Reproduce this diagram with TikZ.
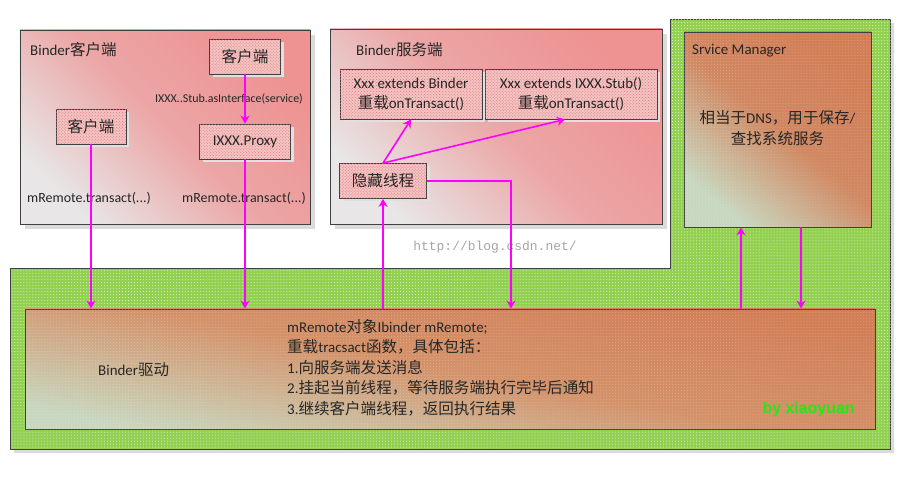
\documentclass[tikz,border=0pt]{standalone}
\usepackage{fontspec}
\setmainfont{Carlito}
\newfontfamily\cjk[Scale=1.04]{Noto Sans CJK SC}
\newfontfamily\urlfont{Liberation Mono}
\newfontfamily\signfont{Liberation Sans}
\usetikzlibrary{arrows.meta,patterns,shadows}

\definecolor{panelpink}{RGB}{238,146,146}
\definecolor{panelmid}{RGB}{236,166,166}
\definecolor{panelgrey}{RGB}{232,230,230}
\definecolor{boxpink}{RGB}{244,196,196}
\definecolor{boxdot}{RGB}{222,120,120}
\definecolor{zonegreen}{RGB}{146,208,80}
\definecolor{coretop}{RGB}{210,126,86}
\definecolor{coremid}{RGB}{212,146,106}
\definecolor{corelow}{RGB}{200,216,192}
\definecolor{edgegrey}{RGB}{64,64,64}
\definecolor{callpink}{RGB}{255,0,255}
\definecolor{signgreen}{RGB}{30,235,20}
\definecolor{inkgrey}{RGB}{38,38,38}

\begin{document}
\begin{tikzpicture}[x=1bp,y=-1bp]

    \tikzset{
      panel/.style={
        draw=edgegrey,
        line width=0.8bp,
        top color=panelpink,
        bottom color=panelgrey,
        middle color=panelmid,
        shading angle=-45,
        drop shadow={shadow xshift=5bp,shadow yshift=-5bp,fill=black!14,opacity=1},
        inner sep=0pt,
      },
      corebox/.style={
        draw=edgegrey,
        line width=0.8bp,
        top color=coretop,
        bottom color=corelow,
        middle color=coremid,
        postaction={pattern=dots,pattern color=white,fill opacity=0.25},
        inner sep=0pt,
      },
      tagbox/.style={
        draw=edgegrey,
        line width=0.8bp,
        fill=boxpink,
        postaction={pattern=crosshatch dots,pattern color=boxdot},
        drop shadow={shadow xshift=3bp,shadow yshift=-3bp,fill=black!12,opacity=1},
        text=inkgrey,
        align=center,
        font=\fontsize{15}{20}\selectfont,
        inner sep=0pt,
      },
      greenzone/.style={
        draw=edgegrey,
        line width=0.8bp,
        fill=zonegreen,
        postaction={pattern=dots,pattern color=white!80!zonegreen},
      },
      caption/.style={
        text=inkgrey,
        font=\fontsize{15}{20.5}\selectfont,
        inner sep=0pt,
      },
      callarrow/.style={
        draw=callpink,
        line width=1.6bp,
        -{Stealth[length=8bp,width=9bp,inset=2.5bp]},
      },
    }
    \useasboundingbox[fill=white] (0,0) rectangle (922,477);

	% green zone behind the driver and the service manager
	\fill[black!14] (14,273) -- (674,273) -- (674,23) -- (894,23) -- (894,453) -- (14,453) -- cycle;
	\draw[greenzone] (10.5,268.5) -- (670.5,268.5) -- (670.5,19.5) -- (890.5,19.5) -- (890.5,449.5) -- (10.5,449.5) -- cycle;

	% panels
	\node[panel, minimum width=290bp, minimum height=194bp] (clientside) at (165,127) {};
	\node[panel, minimum width=332bp, minimum height=195bp] (serverside) at (496,126.5) {};
	\node[corebox, shading angle=-40, middle color=coretop!88!corelow, minimum width=187bp, minimum height=195bp] (sm) at (777.5,129.5) {};
	\node[corebox, shading angle=-11, minimum width=850bp, minimum height=120bp] (driver) at (450,369) {};

	\draw (30,50) node[caption, anchor = west] (clientlbl) {Binder{\cjk 客户端}};
	\draw (356,50) node[caption, anchor = west] (serverlbl) {Binder{\cjk 服务端}};
	\draw (692,51) node[caption, anchor = west] (smlbl) {Srvice Manager};
	\draw (777.5,128) node[caption, align = center, font=\fontsize{15}{21}\selectfont] (smtext) {{\cjk 相当于}DNS{\cjk ，用于保存}/\\{\cjk 查找系统服务}};
	\draw (98,370) node[caption, anchor = west] (driverlbl) {Binder{\cjk 驱动}};
	\draw (287,319) node[caption, anchor = north west, align = left] (drivertext) {mRemote{\cjk 对象}Ibinder mRemote;\\{\cjk 重载}tracsact{\cjk 函数，具体包括：}\\1.{\cjk 向服务端发送消息}\\2.{\cjk 挂起当前线程，等待服务端执行完毕后通知}\\3.{\cjk 继续客户端线程，返回执行结果}};

	% client side
	\node[tagbox, minimum width=71bp, minimum height=35bp] (c2) at (245,56.5) {\cjk 客户端};
	\node[tagbox, minimum width=70bp, minimum height=35bp] (c1) at (91,126.5) {\cjk 客户端};
	\node[tagbox, minimum width=91bp, minimum height=35bp] (proxy) at (245,141.5) {IXXX.Proxy};
	\draw (229,99) node[caption, font=\fontsize{12}{14}\selectfont] (aslbl) {IXXX..Stub.asInterface(service)};
	\draw (27,198) node[caption, anchor = west, font=\fontsize{14}{16}\selectfont] (tr1) {mRemote.transact(...)};
	\draw (182,198) node[caption, anchor = west, font=\fontsize{14}{16}\selectfont] (tr2) {mRemote.transact(...)};

	% server side
	\node[tagbox, minimum width=142bp, minimum height=50bp] (box1) at (411,94) {Xxx extends Binder\\{\cjk 重载}onTransact()};
	\node[tagbox, minimum width=172bp, minimum height=50bp] (box2) at (571,94) {Xxx extends IXXX.Stub()\\{\cjk 重载}onTransact()};
	\node[tagbox, minimum width=87bp, minimum height=35bp] (hidden) at (383,181) {\cjk 隐藏线程};

	\draw (495,247) node[text=black!35, font=\urlfont\fontsize{13}{15}\selectfont] (mark) {http://blog.csdn.net/};
	\draw (759,409) node[anchor = west, text=signgreen, font=\signfont\bfseries\fontsize{16}{18}\selectfont] (sign) {by xiaoyuan};

	% calls
	\draw[callarrow] (c2.south) -- (proxy.north);
	\draw[callarrow] (c1.south) -- (c1.south |- driver.north);
	\draw[callarrow] (proxy.south) -- (proxy.south |- driver.north);
	\draw[callarrow] (hidden.south |- driver.north) -- (hidden.south);
	\draw[callarrow] (hidden.north) -- (box1.south);
	\draw[callarrow] (hidden.north) -- ([xshift=-6bp]box2.south);
	\draw[callarrow] (hidden.east) -| ([xshift=61bp]driver.north);
	\draw[callarrow] ([xshift=291bp]driver.north) -- ([xshift=-36.5bp]sm.south);
	\draw[callarrow] ([xshift=23.5bp]sm.south) -- ([xshift=351bp]driver.north);

\end{tikzpicture}
\end{document}
